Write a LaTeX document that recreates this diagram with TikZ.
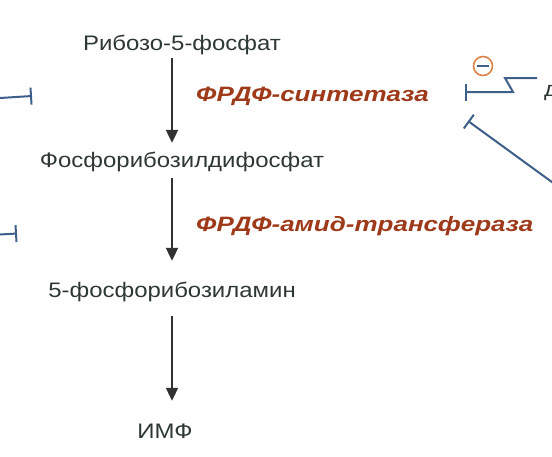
\documentclass[tikz,border=0pt]{standalone}
\usepackage{fontspec}
\setmainfont{Liberation Sans}[FakeStretch=1.14]
\newfontfamily\enzfont{Liberation Sans}[FakeStretch=1.25]
\usetikzlibrary{arrows.meta}
\definecolor{txtc}{RGB}{45,55,52}
\definecolor{enzc}{RGB}{158,58,25}
\definecolor{inhc}{RGB}{62,95,138}
\definecolor{minc}{RGB}{222,132,72}
\definecolor{arrc}{RGB}{50,50,50}
\begin{document}
\begin{tikzpicture}[x=1pt,y=-1pt,
  met/.style={inner sep=0pt, text height=15pt, text depth=4pt, text=txtc, font=\fontsize{21}{24}\selectfont},
  enz/.style={inner sep=0pt, text=enzc, font=\enzfont\fontsize{20.8}{24}\selectfont\bfseries\itshape},
  arr/.style={draw=arrc, line width=2pt, -{Triangle[length=13pt,width=12pt]}},
  inhib/.style={draw=inhc, line width=2pt, -{Bar[width=17pt]}},
]
\useasboundingbox (0,0) rectangle (552,456);
% metabolites
\node[met] (r5p) at (182,45) {Рибозо-5-фосфат};
\node[met] (prpp) at (182,162) {Фосфорибозилдифосфат};
\node[met] (pra) at (172,292) {5-фосфорибозиламин};
\node[met] (imp) at (165,433) {ИМФ};
% enzymes
\node[enz, anchor=west] (e1) at (196,96) {ФРДФ-синтетаза};
\node[enz, anchor=west] (e2) at (196,226) {ФРДФ-амид-трансфераза};
% pathway arrows
\draw[arr, shorten <=3.5pt, shorten >=9.5pt] (r5p.south -| pra.center) -- (prpp.north -| pra.center);
\draw[arr, shorten <=6.5pt, shorten >=21.5pt] (prpp.south -| pra.center) -- (pra.north -| pra.center);
\draw[arr, shorten <=14.5pt, shorten >=22.5pt] (pra.south) -- (imp.north -| pra.center);
% left inhibitors
\coordinate (la1) at (0,98);
\coordinate (la2) at (32,96);
\draw[inhib] (la1) -- (la2);
\coordinate (lb1) at (0,234.5);
\coordinate (lb2) at (17,233.5);
\draw[inhib] (lb1) -- (lb2);
% right inhibitors
\coordinate (ra1) at (537,78);
\coordinate (ra2) at (505,78);
\coordinate (ra3) at (513,92);
\coordinate (ra4) at (465,92);
\draw[inhib] (ra1) -- (ra2) -- (ra3) -- (ra4);
\coordinate (rb1) at (556,185);
\coordinate (rb2) at (468,121);
\draw[inhib] (rb1) -- (rb2);
% minus sign
\node[circle, draw=minc, line width=1.6pt, minimum size=19pt, inner sep=0pt] (mn) at (483,66) {};
\draw[inhc, line width=2pt] ([xshift=-6pt]mn.center) -- ([xshift=6pt]mn.center);
% cut-off text at the right edge (cut in the reference too)
\node[met, anchor=base west] (cut) at (544,96) {д};
\end{tikzpicture}
\end{document}
